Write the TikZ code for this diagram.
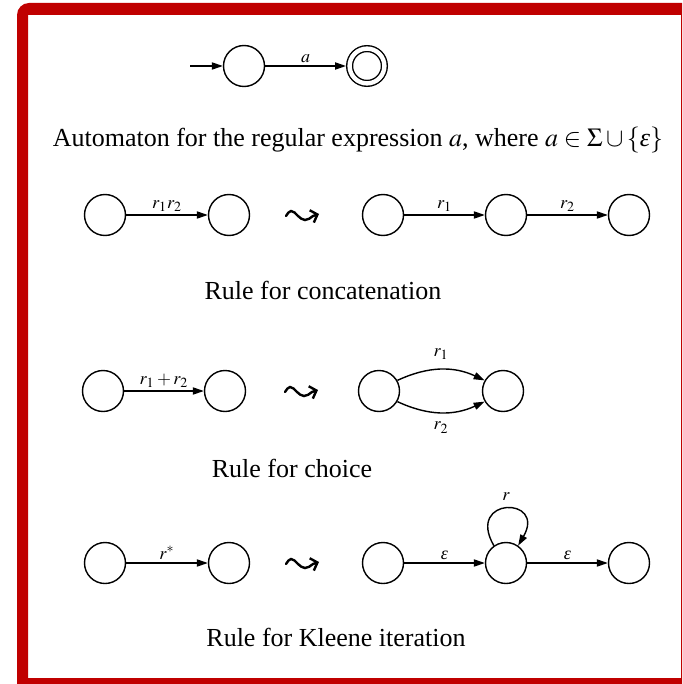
\documentclass[tikz,border=0pt]{standalone}
\usepackage{mathptmx}
\usepackage{amssymb}
\usepackage{fontspec}
\setmainfont{Liberation Serif}
\usetikzlibrary{arrows.meta}
\definecolor{framered}{RGB}{192,0,0}
\newcommand{\eps}{\textit{ε}}

\begin{document}
\begin{tikzpicture}[x=0.5pt, y=-0.5pt, line width=0.7pt,
    state/.style={draw, circle, minimum size=20.5pt, inner sep=0pt},
    accept/.style={state, minimum size=17.4pt, double, double distance=2.2pt, outer sep=1.8pt},
    trans/.style={-{Triangle[length=5.5pt,width=3.6pt]}},
    lab/.style={font=\small, inner sep=1.5pt},
    caption/.style={font=\fontsize{13}{15}\selectfont},
    squiggle/.style={line width=1.2pt, line cap=round, -{Straight Barb[length=3pt,width=6.5pt]}}]
    \useasboundingbox (0,0) rectangle (682,684);

% frame
    \begin{scope}
    \clip (0,0) rectangle (682,684);
    \fill[framered, even odd rule, rounded corners=6pt] (17,3) rectangle (700,700)
        [sharp corners] (28,15) rectangle (681,678);
    \end{scope}

% automaton for a
    \coordinate (in0) at (190,66);
    \node[state] (A0) at (244,66) {};
    \node[accept] (A1) at (367,66) {};
    \draw[trans] (in0) -- (A0);
    \draw[trans] (A0) -- node[lab, above] {$a$} (A1);
    \node[caption] (cap0) at (358,140) {Automaton for the regular expression $a$, where $a \in \Sigma \cup \{$\eps$\}$};

% concatenation
    \node[state] (C1) at (105,215) {};
    \node[state] (C2) at (229,215) {};
    \coordinate (R1) at (286,216);
    \node[state] (C3) at (383,215) {};
    \node[state] (C4) at (506,215) {};
    \node[state] (C5) at (629,215) {};
    \draw[trans] (C1) -- node[lab, above] {$r_1r_2$} (C2);
    \draw[trans] (C3) -- node[lab, above] {$r_1$} (C4);
    \draw[trans] (C4) -- node[lab, above] {$r_2$} (C5);
    \draw[squiggle] (R1) sin ++(5,-5) cos ++(7,5) sin ++(7,4) cos ++(8,-4) -- ++(6,-2);
    \node[caption] (cap1) at (323,290) {Rule for concatenation};

% choice
    \node[state] (U1) at (103,391) {};
    \node[state] (U2) at (225,391) {};
    \coordinate (R2) at (285,392);
    \node[state] (U3) at (379,391) {};
    \node[state] (U4) at (503,391) {};
    \draw[trans] (U1) -- node[lab, above] {$r_1 + r_2$} (U2);
    \draw[trans] (U3.30) to[bend left=25] node[lab, above=3pt] {$r_1$} (U4.150);
    \draw[trans] (U3.-30) to[bend right=25] node[lab, below=3pt] {$r_2$} (U4.-150);
    \draw[squiggle] (R2) sin ++(5,-5) cos ++(7,5) sin ++(7,4) cos ++(8,-4) -- ++(6,-2);
    \node[caption] (cap2) at (292,468) {Rule for choice};

% Kleene iteration
    \node[state] (K1) at (105,563) {};
    \node[state] (K2) at (229,563) {};
    \coordinate (R3) at (286,564);
    \node[state] (K3) at (383,563) {};
    \node[state] (K4) at (506,563) {};
    \node[state] (K5) at (629,563) {};
    \draw[trans] (K1) -- node[lab, above] {$r^*$} (K2);
    \draw[trans] (K3) -- node[lab, above] {\small\eps} (K4);
    \draw[trans] (K4) -- node[lab, above] {\small\eps} (K5);
    \draw[trans] (K4.125) to[out=120, in=60, looseness=6] node[lab, above=2pt] {$r$} (K4.55);
    \draw[squiggle] (R3) sin ++(5,-5) cos ++(7,5) sin ++(7,4) cos ++(8,-4) -- ++(6,-2);
    \node[caption] (cap3) at (336,637) {Rule for Kleene iteration};

\end{tikzpicture}
\end{document}
